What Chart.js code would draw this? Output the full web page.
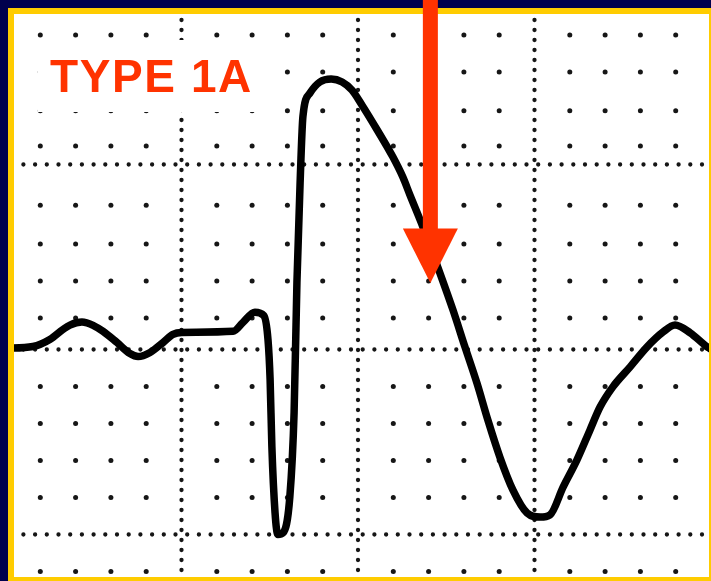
<!DOCTYPE html>
<html><head><meta charset="utf-8">
<script src="https://cdn.jsdelivr.net/npm/chart.js@4.4.1/dist/chart.umd.min.js"></script>
<style>html,body{margin:0;padding:0;background:#fff;overflow:hidden}canvas{display:block}</style>
</head><body>
<canvas id="c" width="711" height="581"></canvas>
<script>
// ECG trace (x: small boxes of time, y: small boxes of amplitude)
const traceX = [0, 0.79, 1.27, 1.64, 1.84, 2.18, 2.52, 2.78, 3.17, 3.54, 3.77, 4.11, 4.48, 4.76, 5.01, 6.46, 6.74, 7.08, 7.33, 7.45, 7.51, 7.56, 7.65, 7.73, 7.88, 8.07, 8.19, 8.27, 8.36, 8.44, 8.64, 8.92, 9.24, 9.55, 9.83, 10.11, 10.54, 10.99, 11.27, 11.47, 11.84, 12.32, 12.69, 13.03, 13.37, 13.68, 14.02, 14.39, 14.79, 15.16, 15.44, 15.81, 16.20, 16.57, 16.86, 17.22, 17.71, 18.19, 18.64, 18.98, 19.41, 19.89, 20];
const traceY = [0.03, 0.08, 0.27, 0.54, 0.66, 0.74, 0.64, 0.49, 0.19, -0.11, -0.19, -0.08, 0.19, 0.41, 0.46, 0.49, 0.73, 1.01, 0.92, 0.27, -0.81, -2.62, -4.41, -5.00, -4.95, -3.97, -1.70, 1.81, 4.51, 6.30, 6.93, 7.23, 7.31, 7.23, 7.01, 6.61, 5.94, 5.20, 4.66, 4.18, 3.31, 2.07, 1.07, 0.07, -0.91, -1.91, -2.91, -3.80, -4.42, -4.53, -4.47, -3.72, -2.99, -2.18, -1.55, -1.01, -0.47, 0.07, 0.47, 0.66, 0.45, 0.07, 0.01];

// ECG paper grid
const xMajor = [5, 10, 15];
const yMajor = [-5, 0, 5];
const xMinor = [1, 2, 3, 4, 6, 7, 8, 9, 11, 12, 13, 14, 16, 17, 18, 19];
const yMinor = [-6, -4, -3, -2, -1, 0.85, 1.85, 2.85, 3.9, 5.5, 6.45, 7.5, 8.5];

// Annotations
const labelText = 'TYPE 1A';
const arrowX = 12.05;
const arrowHeadBaseY = 3.27;
const arrowTipY = 1.80;

const ecgPaper = {
  id: 'ecgPaper',
  beforeDraw(chart) {
    const ctx = chart.ctx;
    ctx.save();
    ctx.fillStyle = '#ffffff';
    ctx.fillRect(0, 0, chart.width, chart.height);
    ctx.restore();
  },
  beforeDatasetsDraw(chart) {
    const {ctx, scales: {x, y}} = chart;
    const W = chart.width, H = chart.height;
    ctx.save();
    ctx.fillStyle = '#161616';
    for (const xv of xMinor) {
      for (const yv of yMinor) {
        ctx.beginPath();
        ctx.arc(x.getPixelForValue(xv), y.getPixelForValue(yv), 2.5, 0, Math.PI * 2);
        ctx.fill();
      }
    }
    ctx.strokeStyle = '#161616';
    ctx.lineCap = 'round';
    ctx.lineWidth = 4.3;
    ctx.setLineDash([0, 11.7]);
    for (const yv of yMajor) {
      const py = y.getPixelForValue(yv);
      ctx.beginPath(); ctx.moveTo(0, py); ctx.lineTo(W, py); ctx.stroke();
    }
    ctx.setLineDash([0, 10]);
    for (const xv of xMajor) {
      const px = x.getPixelForValue(xv);
      ctx.beginPath(); ctx.moveTo(px, 0); ctx.lineTo(px, H); ctx.stroke();
    }
    ctx.restore();
  },
  afterDraw(chart) {
    const {ctx, scales: {x, y}} = chart;
    const W = chart.width, H = chart.height;
    ctx.save();
    // frame
    ctx.fillStyle = '#00004d';
    ctx.fillRect(0, 0, W, 8);
    ctx.fillRect(0, 0, 8, H);
    ctx.fillStyle = '#ffcc00';
    ctx.fillRect(8, 8, W - 8, 6);
    ctx.fillRect(8, 8, 6, H - 8);
    ctx.fillRect(W - 2, 8, 2, H - 8);
    ctx.fillRect(8, H - 4, W - 8, 4);
    // label
    ctx.fillStyle = '#ffffff';
    ctx.fillRect(38, 40, 232, 72);
    ctx.fillStyle = '#ff3300';
    ctx.font = 'bold 46px "Liberation Sans", Arial, sans-serif';
    ctx.textBaseline = 'alphabetic';
    ctx.textAlign = 'left';
    try { ctx.letterSpacing = '1.6px'; } catch (e) {}
    ctx.fillText(labelText, 50, 92);
    // arrow
    const ax = x.getPixelForValue(arrowX);
    const hb = y.getPixelForValue(arrowHeadBaseY);
    const tip = y.getPixelForValue(arrowTipY);
    ctx.fillStyle = '#ff3300';
    ctx.fillRect(ax - 7.5, 0, 15, hb + 1);
    ctx.beginPath();
    ctx.moveTo(ax - 27.5, hb);
    ctx.lineTo(ax + 27.5, hb);
    ctx.lineTo(ax, tip);
    ctx.closePath();
    ctx.fill();
    ctx.restore();
  }
};

new Chart(document.getElementById('c'), {
  type: 'line',
  data: {
    datasets: [{
      data: traceX.map((v, i) => ({x: v, y: traceY[i]})),
      borderColor: '#000000',
      borderWidth: 7.5,
      pointRadius: 0,
      fill: false,
      cubicInterpolationMode: 'monotone',
      borderJoinStyle: 'round',
      borderCapStyle: 'round'
    }]
  },
  options: {
    responsive: false,
    animation: false,
    devicePixelRatio: 1,
    layout: {padding: {left: 5, right: 0, top: 0, bottom: 0}},
    plugins: {legend: {display: false}, tooltip: {enabled: false}, title: {display: false}},
    scales: {
      x: {type: 'linear', display: false, min: 0, max: 20},
      y: {type: 'linear', display: false, min: -6.257, max: 9.446}
    }
  },
  plugins: [ecgPaper]
});
</script>
</body></html>
